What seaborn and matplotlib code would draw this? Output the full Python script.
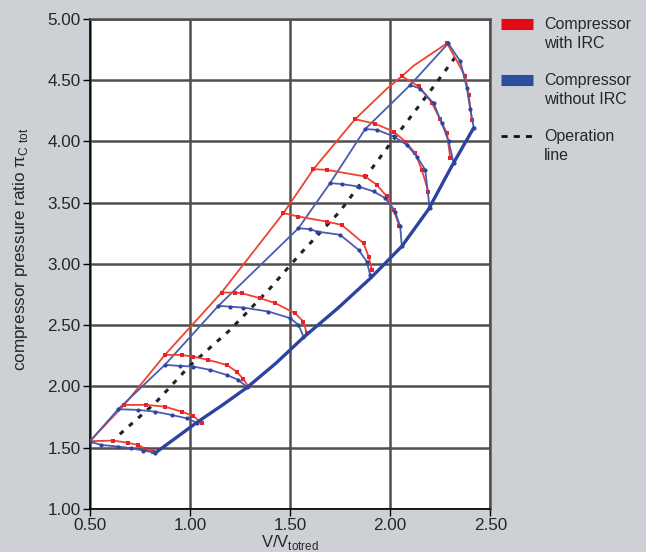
import numpy as np
import pandas as pd
import matplotlib
matplotlib.use('Agg')
import matplotlib.pyplot as plt
import seaborn as sns
from matplotlib.lines import Line2D
from matplotlib.legend_handler import HandlerLine2D

# Kennfeld-Daten
red_surge_x = [0.50, 0.672, 0.875, 1.158, 1.467, 1.617, 1.825, 1.986, 2.058, 2.119, 2.284]
red_surge_y = [1.553, 1.849, 2.257, 2.766, 3.414, 3.773, 4.181, 4.433, 4.531, 4.619, 4.800]

blue_surge_x = [0.50, 0.642, 0.875, 1.142, 1.542, 1.700, 1.875, 2.100, 2.290]
blue_surge_y = [1.550, 1.814, 2.176, 2.657, 3.291, 3.659, 4.100, 4.459, 4.800]

choke_x = [0.825, 0.930, 1.033, 1.160, 1.286, 1.430, 1.567, 1.740, 1.903, 2.058, 2.191, 2.309, 2.417]
choke_y = [1.455, 1.580, 1.704, 1.845, 1.992, 2.190, 2.400, 2.640, 2.885, 3.143, 3.444, 3.802, 4.110]

red_speed_x = [
    [0.50, 0.617, 0.690, 0.742, 0.783, 0.817],
    [0.672, 0.783, 0.875, 0.958, 1.017, 1.058],
    [0.875, 0.958, 1.017, 1.092, 1.183, 1.233, 1.267, 1.292],
    [1.158, 1.225, 1.258, 1.350, 1.425, 1.525, 1.567, 1.583],
    [1.467, 1.542, 1.683, 1.758, 1.867, 1.892, 1.908],
    [1.617, 1.683, 1.875, 1.933, 1.983, 2.017, 2.045],
    [1.825, 1.925, 2.017, 2.075, 2.125, 2.158, 2.190],
    [2.058, 2.142, 2.208, 2.250, 2.283, 2.300],
    [2.284, 2.375, 2.392, 2.408],
]
red_speed_y = [
    [1.553, 1.558, 1.540, 1.522, 1.487, 1.468],
    [1.849, 1.849, 1.835, 1.794, 1.759, 1.699],
    [2.257, 2.257, 2.243, 2.216, 2.176, 2.121, 2.059, 1.998],
    [2.766, 2.766, 2.761, 2.720, 2.680, 2.597, 2.529, 2.434],
    [3.414, 3.386, 3.345, 3.318, 3.168, 3.060, 2.951],
    [3.773, 3.767, 3.713, 3.645, 3.550, 3.440, 3.310],
    [4.181, 4.143, 4.080, 3.998, 3.904, 3.767, 3.590],
    [4.531, 4.449, 4.314, 4.178, 4.069, 3.865],
    [4.800, 4.530, 4.380, 4.176],
]

blue_speed_x = [
    [0.50, 0.558, 0.642, 0.708, 0.767, 0.825],
    [0.642, 0.742, 0.825, 0.908, 0.983, 1.033],
    [0.875, 0.950, 1.017, 1.100, 1.183, 1.242, 1.283],
    [1.142, 1.200, 1.267, 1.392, 1.500, 1.542, 1.567],
    [1.542, 1.600, 1.633, 1.750, 1.842, 1.883, 1.900],
    [1.700, 1.758, 1.842, 1.917, 1.975, 2.025, 2.050, 2.058],
    [1.875, 1.933, 2.017, 2.083, 2.133, 2.175, 2.197],
    [2.100, 2.150, 2.217, 2.258, 2.292, 2.317],
    [2.290, 2.350, 2.383, 2.400, 2.417],
]
blue_speed_y = [
    [1.550, 1.522, 1.509, 1.495, 1.476, 1.460],
    [1.814, 1.808, 1.794, 1.767, 1.740, 1.704],
    [2.176, 2.167, 2.162, 2.135, 2.094, 2.053, 1.998],
    [2.657, 2.651, 2.643, 2.611, 2.557, 2.502, 2.407],
    [3.291, 3.283, 3.264, 3.237, 3.114, 3.019, 2.910],
    [3.659, 3.651, 3.631, 3.591, 3.537, 3.427, 3.305, 3.143],
    [4.100, 4.094, 4.040, 3.971, 3.876, 3.767, 3.455],
    [4.459, 4.430, 4.310, 4.147, 4.000, 3.820],
    [4.800, 4.653, 4.435, 4.260, 4.112],
]

op_x = [0.650, 0.830, 1.000, 1.200, 1.400, 1.550, 1.750, 2.000, 2.200, 2.340]
op_y = [1.610, 1.870, 2.170, 2.460, 2.800, 3.080, 3.430, 3.980, 4.410, 4.720]

labels = ['Compressor\nwith IRC', 'Compressor\nwithout IRC', 'Operation\nline']
xticks = [0.5, 1.0, 1.5, 2.0, 2.5]
yticks = [1.0, 1.5, 2.0, 2.5, 3.0, 3.5, 4.0, 4.5, 5.0]

bg = '#cdd1d6'
red_line = '#f0432e'
red_mark = '#e8222c'
blue_line = '#4a5cb0'
blue_dark = '#2c44a0'
grid_c = '#4f4f4f'

sns.set_style('white')
plt.rcParams['font.family'] = ['Liberation Sans', 'DejaVu Sans']
plt.rcParams['mathtext.fontset'] = 'custom'
plt.rcParams['mathtext.rm'] = 'Liberation Sans'


class TopLineHandler(HandlerLine2D):
    # Legendensymbol auf Höhe der ersten Textzeile schieben
    def create_artists(self, legend, orig_handle, xdescent, ydescent,
                       width, height, fontsize, trans):
        arts = super().create_artists(legend, orig_handle, xdescent, ydescent,
                                      width, height, fontsize, trans)
        for a in arts:
            a.set_ydata(np.asarray(a.get_ydata()) + 0.62 * fontsize)
        return arts


# Speedlines in Long-Format
rows = []
for i, (xs, ys) in enumerate(zip(red_speed_x, red_speed_y)):
    for xv, yv in zip(xs, ys):
        rows.append({'cfg': 'red', 'line': i, 'x': xv, 'y': yv})
for i, (xs, ys) in enumerate(zip(blue_speed_x, blue_speed_y)):
    for xv, yv in zip(xs, ys):
        rows.append({'cfg': 'blue', 'line': i, 'x': xv, 'y': yv})
df_speed = pd.DataFrame(rows)

fig = plt.figure(figsize=(6.46, 5.52), dpi=100, facecolor=bg)
ax = fig.add_axes([0.139, 0.078, 0.62, 0.888])
ax.set_facecolor('white')

# Betriebslinie
sns.lineplot(x=op_x, y=op_y, ax=ax, color='#222222', lw=2.2,
             linestyle=(0, (1.6, 2.4)), sort=False, estimator=None, zorder=3)

# Pumpgrenzen und Stopfgrenze
sns.lineplot(x=red_surge_x, y=red_surge_y, ax=ax, color=red_line, lw=1.3,
             sort=False, estimator=None, zorder=4)
sns.lineplot(x=blue_surge_x, y=blue_surge_y, ax=ax, color=blue_line, lw=1.3,
             sort=False, estimator=None, zorder=4)
sns.lineplot(x=choke_x, y=choke_y, ax=ax, color=blue_dark, lw=2.4,
             sort=False, estimator=None, zorder=5)

# Drehzahllinien
sns.lineplot(data=df_speed[df_speed['cfg'] == 'red'], x='x', y='y', units='line',
             estimator=None, sort=False, ax=ax, color=red_line, lw=1.3,
             marker='s', markersize=3.3, markeredgewidth=0,
             markerfacecolor=red_mark, zorder=4)
sns.lineplot(data=df_speed[df_speed['cfg'] == 'blue'], x='x', y='y', units='line',
             estimator=None, sort=False, ax=ax, color=blue_line, lw=1.3,
             marker='o', markersize=3.0, markeredgewidth=0,
             markerfacecolor=blue_dark, zorder=4)

ax.set_xlim(0.5, 2.5)
ax.set_ylim(1.0, 5.0)
ax.set_xticks(xticks)
ax.set_yticks(yticks)
ax.set_xticklabels([f'{v:.2f}' for v in xticks])
ax.set_yticklabels([f'{v:.2f}' for v in yticks])
ax.grid(True, color=grid_c, lw=1.8, zorder=0)
ax.set_axisbelow(True)
ax.tick_params(axis='both', direction='out', length=5, width=1, color='black',
               labelsize=12.3, pad=1.5, left=True, bottom=True)
for s in ['left', 'bottom']:
    ax.spines[s].set_color('black')
    ax.spines[s].set_linewidth(1.2)
for s in ['top', 'right']:
    ax.spines[s].set_color(grid_c)
    ax.spines[s].set_linewidth(1.8)

ax.set_xlabel(r'V/V$_{\mathrm{totred}}$', fontsize=12, labelpad=0)
ax.set_ylabel(r'compressor pressure ratio π$_{\mathrm{C\ tot}}$', fontsize=12.3)
ax.yaxis.set_label_coords(-0.15, 0.53)

handles = [
    Line2D([0], [0], color='#e30a17', lw=8, solid_capstyle='butt'),
    Line2D([0], [0], color='#2b4e9e', lw=8, solid_capstyle='butt'),
    Line2D([0], [0], color='#111111', lw=2, linestyle=(0, (2.2, 2.2))),
]
leg = fig.legend(handles, labels, loc='upper left', bbox_to_anchor=(0.753, 0.995),
                 frameon=False, fontsize=11.5, handlelength=2.0, handletextpad=0.7,
                 labelspacing=1.4, handler_map={Line2D: TopLineHandler()})
for t in leg.get_texts():
    t.set_linespacing(1.3)

plt.savefig('out.png', dpi=100, facecolor=bg)
